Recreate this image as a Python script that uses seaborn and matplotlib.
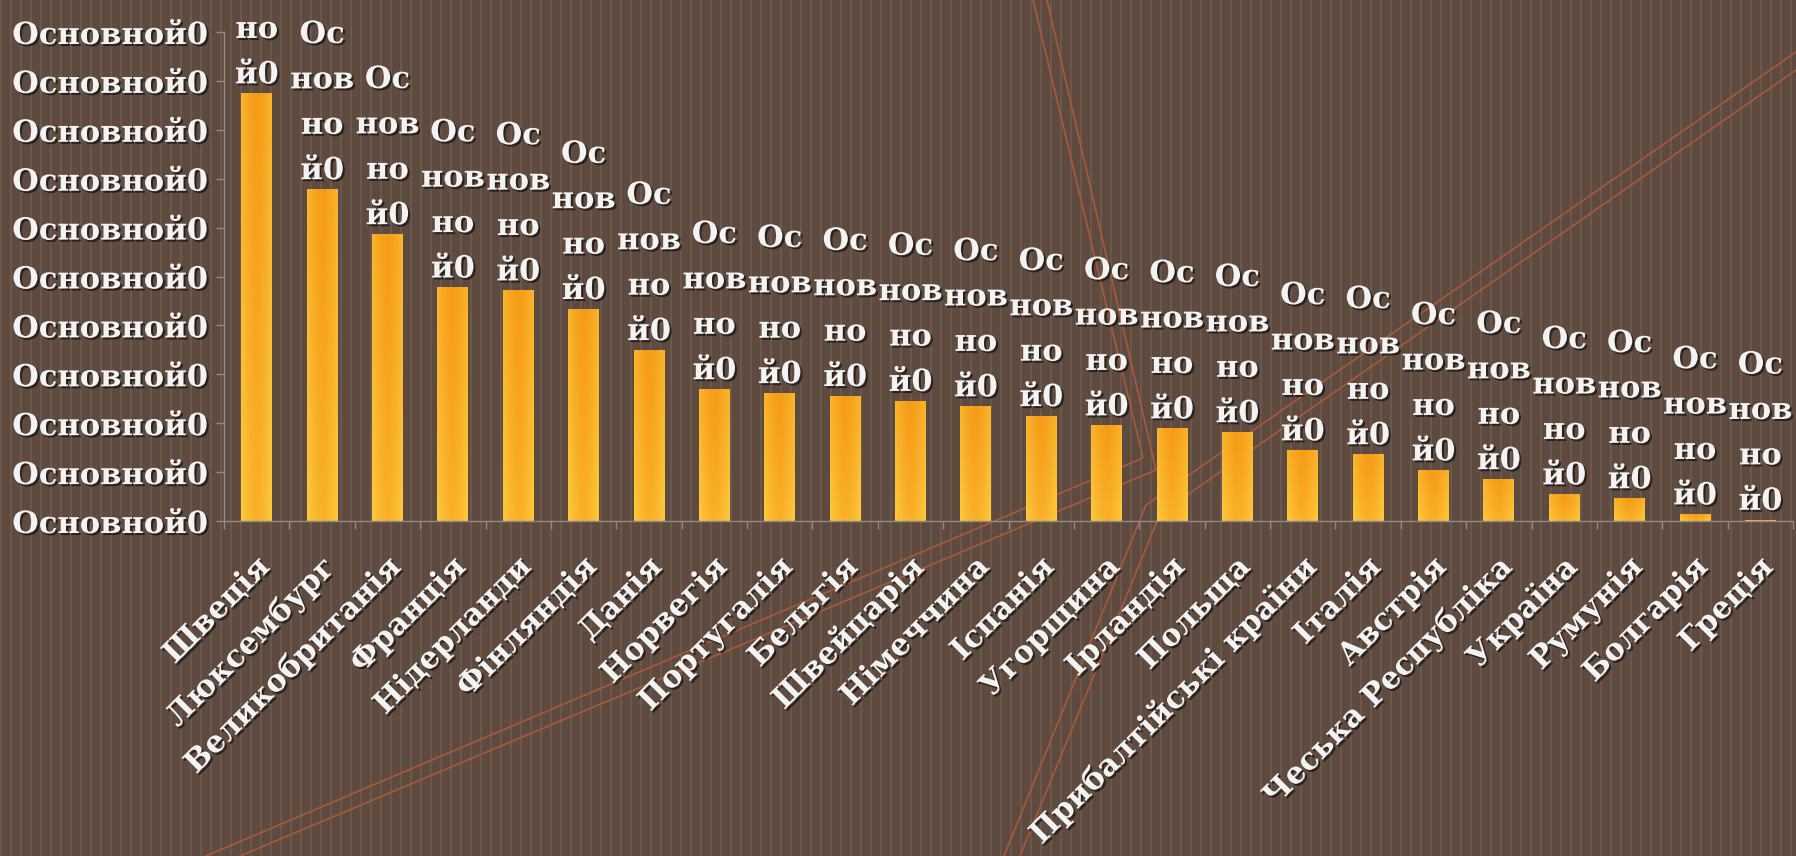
import numpy as np
import matplotlib
matplotlib.use("Agg")
import matplotlib.pyplot as plt
import matplotlib.patheffects as pe
from matplotlib.transforms import ScaledTranslation
import seaborn as sns

# ------------------------------------------------------------
# DATA
# ------------------------------------------------------------

countries = [
    "Швеція", "Люксембург", "Великобританія", "Франція", "Нідерланди",
    "Фінляндія", "Данія", "Норвегія", "Португалія", "Бельгія",
    "Швейцарія", "Німеччина", "Іспанія", "Угорщина", "Ірландія",
    "Польща", "Прибалтійські країни", "Італія", "Австрія",
    "Чеська Республіка", "Україна", "Румунія", "Болгарія", "Греція",
]

values = [
    8.75, 6.79, 5.87, 4.78, 4.72,
    4.34, 3.50, 2.70, 2.62, 2.56,
    2.46, 2.35, 2.15, 1.96, 1.90,
    1.82, 1.45, 1.37, 1.04,
    0.86, 0.55, 0.47, 0.14, 0.03,
]

y_ticks = list(range(11))
y_tick_labels = ["Основной0"] * len(y_ticks)
bar_labels = ["Основной0"] * len(countries)

# ------------------------------------------------------------
# STYLE
# ------------------------------------------------------------

sns.set_style("ticks")
plt.rcParams["font.family"] = ["DejaVu Serif", "DejaVu Sans"]
plt.rcParams["font.weight"] = "bold"

W, H = 1796, 856
BG = np.array([0x5e, 0x4a, 0x3f]) / 255
STRIPE = np.array([0x6b, 0x58, 0x4d]) / 255
LINE_COL = "#a65a3a"
TXT = "#f3f3f3"
FS = 22
shadow = [pe.withSimplePatchShadow(offset=(1.5, -1.5), shadow_rgbFace="black", alpha=0.55)]

fig = plt.figure(figsize=(W / 100, H / 100), dpi=100)
fig.patch.set_facecolor(BG)

# background texture + decorative theme lines (pixel space)
bg = fig.add_axes([0, 0, 1, 1], zorder=0)
cols = np.arange(W) % 10
tex = np.where((cols < 2)[:, None], STRIPE, BG)[None, :, :]
bg.imshow(tex, extent=(0, W, H, 0), aspect="auto", interpolation="nearest")
deco = [
    [(1033, 0), (1143, 458), (206, 856)],
    [(1047, 0), (1156, 470), (240, 856)],
    [(1004, 856), (1146, 505), (1796, 52)],
    [(1020, 856), (1160, 514), (1796, 70)],
]
for path in deco:
    xs, ys = zip(*path)
    bg.plot(xs, ys, color=LINE_COL, lw=1.2)
bg.set_xlim(0, W)
bg.set_ylim(H, 0)
bg.axis("off")

# ------------------------------------------------------------
# MAIN CHART
# ------------------------------------------------------------

x0, x1, ytop, ybot = 224, 1793, 32, 521
ax = fig.add_axes([x0 / W, (H - ybot) / H, (x1 - x0) / W, (ybot - ytop) / H], zorder=1)
ax.patch.set_alpha(0)

sns.barplot(x=countries, y=values, ax=ax, color="#f7a21e", saturation=1,
            width=0.47, linewidth=0)

# gradient fill clipped to each bar
orange = np.array([0xf6, 0x9c, 0x18]) / 255
yellow = np.array([0xfc, 0xca, 0x3e]) / 255
gx = np.linspace(-1, 1, 40)
gy = np.linspace(0, 1, 100)
GX, GY = np.meshgrid(gx, gy)
wgt = np.clip(0.55 * np.abs(GX) ** 1.5 + 0.45 * (1 - GY) ** 1.2, 0, 1)
grad = orange + (yellow - orange) * wgt[..., None]
for p in ax.patches:
    bx, bw, bh = p.get_x(), p.get_width(), p.get_height()
    if bh <= 0:
        continue
    im = ax.imshow(grad, extent=(bx, bx + bw, 0, bh), origin="lower",
                   aspect="auto", zorder=p.get_zorder() + 0.1)
    im.set_clip_path(p)

# wrapped data labels, as PowerPoint broke them
for i, (v, lab) in enumerate(zip(values, bar_labels)):
    wrapped = "\n".join([lab[:2], lab[2:5], lab[5:7], lab[7:]])
    ax.annotate(wrapped, (i, v), xytext=(0, 2), textcoords="offset points",
                ha="center", va="bottom", multialignment="center",
                fontsize=FS, color=TXT, linespacing=1.6,
                annotation_clip=False, path_effects=shadow)

ax.set_xlim(-0.5, len(countries) - 0.5)
ax.set_ylim(0, 10)

ax.set_yticks(y_ticks)
ax.set_yticklabels(y_tick_labels, fontsize=FS, color=TXT)
ax.set_xticks(range(len(countries)))
ax.set_xticklabels(countries, fontsize=FS, color=TXT, rotation=45,
                   ha="right", va="center", rotation_mode="anchor")
ax.set_xticks(np.arange(-0.5, len(countries)), minor=True)

ax.tick_params(axis="y", length=6, width=1, color="#8f8a86", pad=6)
ax.tick_params(axis="x", which="major", length=0, pad=30)
ax.tick_params(axis="x", which="minor", length=6, width=1, color="#8f8a86")

shift = ScaledTranslation(8 / 100, 0, fig.dpi_scale_trans)
for lab in ax.get_xticklabels():
    lab.set_transform(lab.get_transform() + shift)
    lab.set_path_effects(shadow)
for lab in ax.get_yticklabels():
    lab.set_path_effects(shadow)

for side in ["top", "right"]:
    ax.spines[side].set_visible(False)
for side in ["left", "bottom"]:
    ax.spines[side].set_color("#8f8a86")
    ax.spines[side].set_linewidth(1)

ax.set_xlabel("")
ax.set_ylabel("")

fig.savefig("out.png", dpi=100, facecolor=fig.get_facecolor())
